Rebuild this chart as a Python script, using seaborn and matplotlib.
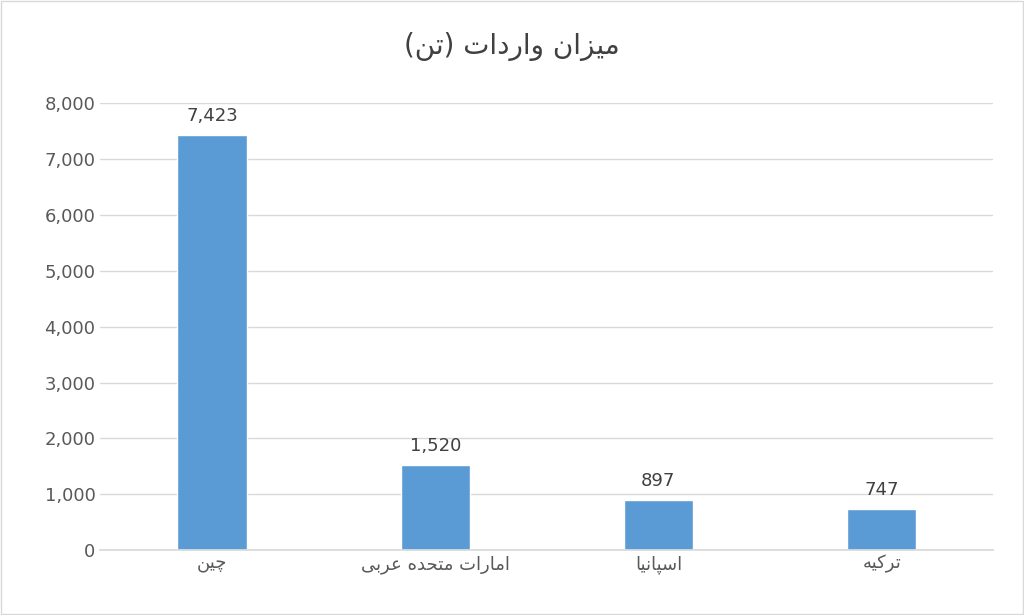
import matplotlib
matplotlib.use("Agg")
import matplotlib.pyplot as plt
import seaborn as sns
import pandas as pd

categories = ["چین", "امارات متحده عربی", "اسپانیا", "ترکیه"]
values = [7423, 1520, 897, 747]
title = "میزان واردات (تن)"

# minimal Persian shaping: (iso, final, initial, medial); None for non-left-joining
FORMS = {
    "م": ("\uFEE1", "\uFEE2", "\uFEE3", "\uFEE4"),
    "ی": ("\uFBFC", "\uFBFD", "\uFBFE", "\uFBFF"),
    "ز": ("\uFEAF", "\uFEB0", None, None),
    "ا": ("\uFE8D", "\uFE8E", None, None),
    "ن": ("\uFEE5", "\uFEE6", "\uFEE7", "\uFEE8"),
    "و": ("\uFEED", "\uFEEE", None, None),
    "ر": ("\uFEAD", "\uFEAE", None, None),
    "د": ("\uFEA9", "\uFEAA", None, None),
    "ت": ("\uFE95", "\uFE96", "\uFE97", "\uFE98"),
    "چ": ("\uFB7A", "\uFB7B", "\uFB7C", "\uFB7D"),
    "ه": ("\uFEE9", "\uFEEA", "\uFEEB", "\uFEEC"),
    "ع": ("\uFEC9", "\uFECA", "\uFECB", "\uFECC"),
    "ب": ("\uFE8F", "\uFE90", "\uFE91", "\uFE92"),
    "ح": ("\uFEA1", "\uFEA2", "\uFEA3", "\uFEA4"),
    "پ": ("\uFB56", "\uFB57", "\uFB58", "\uFB59"),
    "ک": ("\uFB8E", "\uFB8F", "\uFB90", "\uFB91"),
    "س": ("\uFEB1", "\uFEB2", "\uFEB3", "\uFEB4"),
}

def shape(s):
    out = []
    n = len(s)
    for i, ch in enumerate(s):
        if ch not in FORMS:
            out.append(ch)
            continue
        prev = s[i - 1] if i > 0 else None
        nxt = s[i + 1] if i < n - 1 else None
        join_prev = prev in FORMS and FORMS[prev][2] is not None
        join_next = nxt in FORMS and FORMS[ch][2] is not None
        f = FORMS[ch]
        if join_prev and join_next:
            out.append(f[3])
        elif join_prev:
            out.append(f[1])
        elif join_next:
            out.append(f[2])
        else:
            out.append(f[0])
    vis = "".join(out)[::-1]
    return vis.translate(str.maketrans("()", ")("))

sns.set_theme(style="white")
plt.rcParams["font.family"] = ["DejaVu Sans"]

df = pd.DataFrame({"cat": [shape(c) for c in categories], "val": values})

fig = plt.figure(figsize=(10.24, 6.15), dpi=100)
ax = fig.add_axes([0.098, 0.105, 0.872, 0.728])
sns.barplot(data=df, x="cat", y="val", color="#5B9BD5", width=0.31,
            saturation=1, ax=ax)
ax.set_ylim(0, 8000)
ax.set_yticks(range(0, 8001, 1000))
ax.yaxis.set_major_formatter(matplotlib.ticker.FuncFormatter(lambda v, p: f"{int(v):,}"))
ax.grid(axis="y", color="#D9D9D9", linewidth=1)
ax.set_axisbelow(True)
for s in ["top", "right", "left"]:
    ax.spines[s].set_visible(False)
ax.spines["bottom"].set_color("#D9D9D9")
ax.tick_params(axis="both", colors="#595959", labelsize=13, length=0)
ax.set_xlabel("")
ax.set_ylabel("")
for i, v in enumerate(values):
    ax.text(i, v + 180, f"{v:,}", ha="center", va="bottom", fontsize=13, color="#404040")
fig.text(0.5, 0.925, shape(title), ha="center", va="center", fontsize=20, color="#404040")
fig.patches.append(matplotlib.patches.Rectangle((0.001, 0.001), 0.998, 0.997, transform=fig.transFigure,
                   fill=False, edgecolor="#D9D9D9", linewidth=1))
fig.savefig("out.png", dpi=100)
